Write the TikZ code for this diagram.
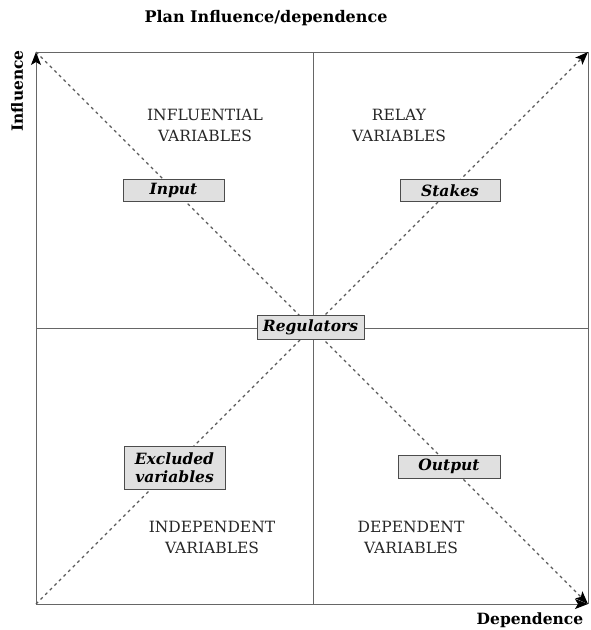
\documentclass[tikz,border=0pt]{standalone}
\usepackage{fontspec}
\setmainfont{DejaVu Serif}
\usetikzlibrary{arrows.meta}
\begin{document}
\begin{tikzpicture}[x=1pt,y=-1pt,
  axisline/.style={draw=black!60,line width=1pt},
  diag/.style={draw=black!65,line width=1.1pt,dash pattern=on 3pt off 3.5pt},
  tip/.style={-{Stealth[length=13pt,width=10pt,inset=3pt,black]}},
  varlabel/.style={font=\fontsize{15.5}{21}\selectfont,align=center,text=black!85},
  keybox/.style={draw=black!70,fill=black!12,line width=0.9pt,inner sep=0pt,
    font=\fontsize{15.5}{17}\selectfont\bfseries\itshape,align=center},
  axislabel/.style={font=\fontsize{15.5}{17}\selectfont\bfseries}]
\useasboundingbox (0,0) rectangle (591,630);
\coordinate (tl) at (36,52);
\coordinate (tr) at (588,52);
\coordinate (bl) at (36,604);
\coordinate (br) at (588,604);
\coordinate (mt) at (313,52);
\coordinate (mb) at (313,604);
\coordinate (ml) at (36,328);
\coordinate (mr) at (588,328);
% frame and axes
\draw[axisline] (tl) -- (tr) -- (br);
\draw[axisline] (mt) -- (mb);
\draw[axisline] (ml) -- (mr);
\draw[axisline,tip] (bl) -- (tl);
\draw[axisline,tip] (bl) -- (br);
% diagonals
\draw[diag,tip] (tl) -- (br);
\draw[diag,tip] (bl) -- (tr);
% quadrant labels
\node[varlabel] (infl) at (205,125) {INFLUENTIAL\\VARIABLES};
\node[varlabel] (relay) at (399,125) {RELAY\\VARIABLES};
\node[varlabel] (indep) at (212,537) {INDEPENDENT\\VARIABLES};
\node[varlabel] (dep) at (411,537) {DEPENDENT\\VARIABLES};
% boxes
\node[keybox,minimum width=101pt,minimum height=22pt] (input) at (173.5,190) {Input};
\node[keybox,minimum width=100pt,minimum height=22pt] (stakes) at (450,190.5) {Stakes};
\node[keybox,minimum width=107pt,minimum height=24pt] (reg) at (310.5,327) {Regulators};
\node[keybox,minimum width=101pt,minimum height=43pt] (excl) at (174.5,467.5) {Excluded\\[1.5pt]variables};
\node[keybox,minimum width=102pt,minimum height=23pt] (output) at (449,466.5) {Output};
% titles
\node[axislabel,font=\fontsize{16}{18}\selectfont\bfseries] (title) at (266,18) {Plan Influence/dependence};
\node[axislabel,rotate=90] (ylab) at (17,91) {Influence};
\node[axislabel] (xlab) at (530,620) {Dependence};
\end{tikzpicture}
\end{document}
